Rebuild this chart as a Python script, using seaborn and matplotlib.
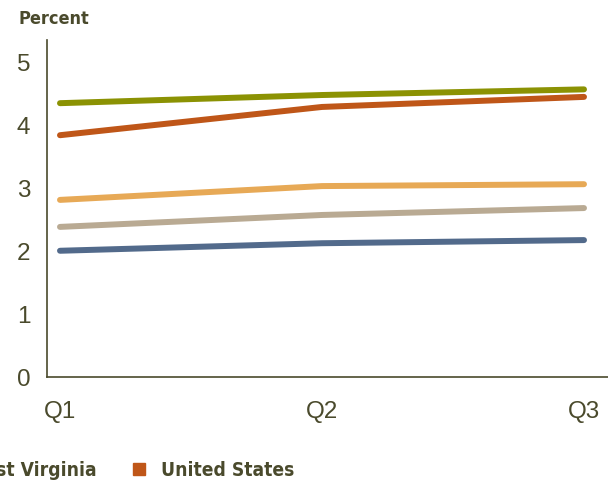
import matplotlib
matplotlib.use("Agg")
import matplotlib.pyplot as plt
from matplotlib.lines import Line2D
from matplotlib import font_manager as fm
import seaborn as sns
import pandas as pd

quarters = ["Q1", "Q2", "Q3"]
series_names = ["Ohio", "Kentucky", "Pennsylvania", "West Virginia", "United States"]
ohio = [2.82, 3.04, 3.07]
kentucky = [2.39, 2.58, 2.69]
pennsylvania = [2.01, 2.13, 2.18]
west_virginia = [4.36, 4.49, 4.58]
united_states = [3.85, 4.30, 4.46]
y_ticks = [0, 1, 2, 3, 4, 5]
legend_names = ["West Virginia", "United States"]

colors = {
    "Ohio": "#e7a956",
    "Kentucky": "#b9aa93",
    "Pennsylvania": "#526a8b",
    "West Virginia": "#8b9203",
    "United States": "#bf5618",
}
text_color = "#4a4a2c"

values = [ohio, kentucky, pennsylvania, west_virginia, united_states]
rows = []
for name, vals in zip(series_names, values):
    for i, (q, v) in enumerate(zip(quarters, vals)):
        rows.append({"series": name, "x": i, "quarter": q, "value": v})
df = pd.DataFrame(rows)

sns.set_style("white")
plt.rcParams["font.family"] = ["Liberation Sans", "DejaVu Sans"]

fig = plt.figure(figsize=(6.08, 4.82), dpi=100)
ax = fig.add_axes([47 / 608, 105 / 482, 589.4 / 608, 337 / 482])

sns.lineplot(data=df, x="x", y="value", hue="series", hue_order=series_names,
             palette=colors, linewidth=4.3, ax=ax, legend=False,
             solid_capstyle="round")

ax.set_xlim(-0.0496, 2.2)
ax.set_ylim(0, 5.366)
ax.set_xticks(range(len(quarters)))
ax.set_xticklabels(quarters)
ax.set_yticks(y_ticks)
ax.set_xlabel("")
ax.set_ylabel("")
for s in ["top", "right"]:
    ax.spines[s].set_visible(False)
for s in ["left", "bottom"]:
    ax.spines[s].set_color(text_color)
    ax.spines[s].set_linewidth(1.2)
ax.tick_params(axis="both", colors=text_color, labelcolor=text_color,
               labelsize=17.5, length=5, width=1.2, direction="out")
ax.tick_params(axis="x", pad=12)
ax.tick_params(axis="y", pad=7)
ax.grid(False)

cond_bold = fm.FontProperties(family="DejaVu Sans", weight="bold",
                              stretch="condensed", size=13)
fig.text(19 / 608, 1 - 19 / 482, "Percent", fontproperties=cond_bold,
         color=text_color, va="center", ha="left")

handles = [Line2D([], [], marker="s", linestyle="none", markersize=9,
                  markerfacecolor=colors[n], markeredgecolor=colors[n])
           for n in legend_names]
leg_prop = fm.FontProperties(family="DejaVu Sans", weight="bold",
                             stretch="condensed", size=13.8)
leg = fig.legend(handles, legend_names, loc="center right",
                 bbox_to_anchor=(294 / 608, 12 / 482), ncol=2, frameon=False,
                 handlelength=0.7, handletextpad=0.8, columnspacing=1.85,
                 borderpad=0, borderaxespad=0, prop=leg_prop)
for t in leg.get_texts():
    t.set_color(text_color)

fig.savefig("out.png", dpi=100)
